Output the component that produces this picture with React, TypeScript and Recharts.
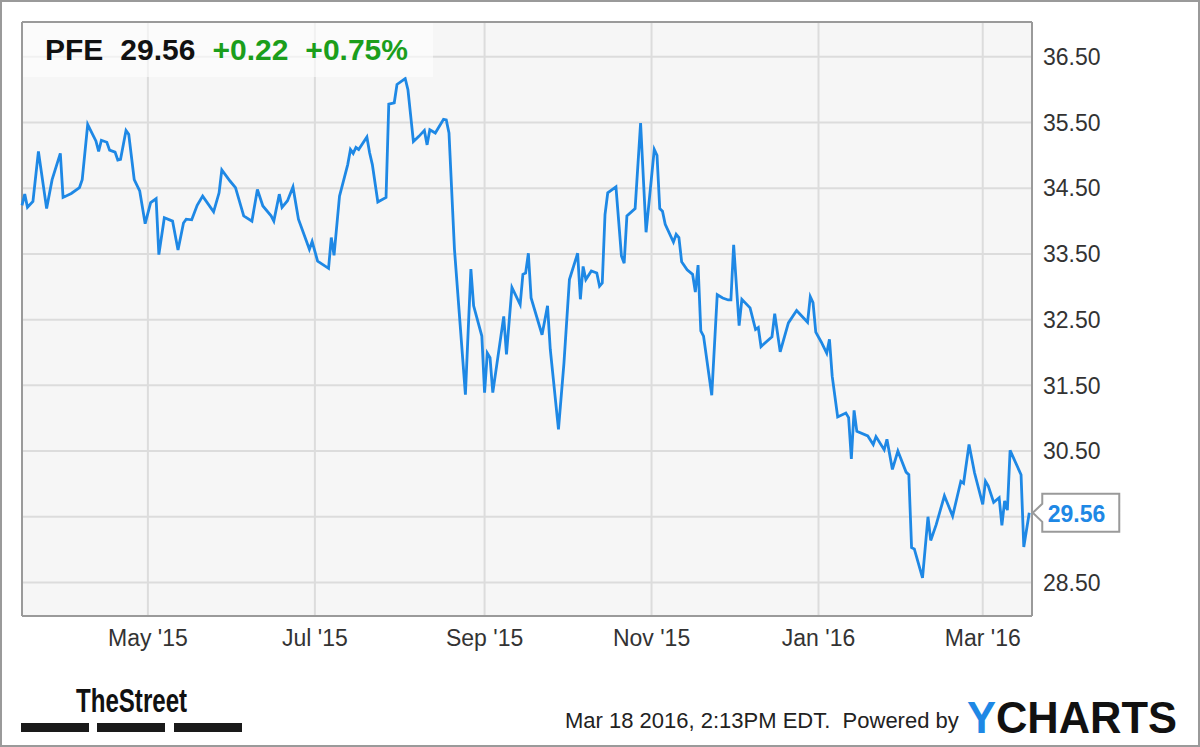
import React from 'react';
import { LineChart, Line, XAxis, YAxis, CartesianGrid, ReferenceLine, LabelList } from 'recharts';

const TICKER = 'PFE';
const CHANGE = 0.22;
const CHANGE_PCT = 0.75;
const STAMP = 'Mar 18 2016, 2:13PM EDT.  Powered by';

// closing prices (PFE, Mar 2015 - Mar 2016)
const DATES = [
  '2015-03-16', '2015-03-17', '2015-03-18', '2015-03-20', '2015-03-22', '2015-03-25', '2015-03-27', '2015-03-30', '2015-03-31',
  '2015-04-03', '2015-04-06', '2015-04-07', '2015-04-09', '2015-04-12', '2015-04-13', '2015-04-14', '2015-04-16', '2015-04-17',
  '2015-04-19', '2015-04-20', '2015-04-21', '2015-04-23', '2015-04-24', '2015-04-26', '2015-04-28', '2015-04-30',
  '2015-05-02', '2015-05-04', '2015-05-05', '2015-05-07', '2015-05-10', '2015-05-12', '2015-05-14', '2015-05-15', '2015-05-17',
  '2015-05-19', '2015-05-21', '2015-05-25', '2015-05-27', '2015-05-28', '2015-05-31',
  '2015-06-02', '2015-06-05', '2015-06-08', '2015-06-10', '2015-06-12', '2015-06-15', '2015-06-16', '2015-06-18', '2015-06-19',
  '2015-06-21', '2015-06-23', '2015-06-25', '2015-06-29', '2015-06-30',
  '2015-07-02', '2015-07-06', '2015-07-07', '2015-07-08', '2015-07-10', '2015-07-13', '2015-07-14', '2015-07-15', '2015-07-16',
  '2015-07-17', '2015-07-20', '2015-07-21', '2015-07-22', '2015-07-24', '2015-07-27', '2015-07-28', '2015-07-30', '2015-07-31',
  '2015-08-03', '2015-08-04', '2015-08-06', '2015-08-08', '2015-08-10', '2015-08-11', '2015-08-12', '2015-08-14', '2015-08-17',
  '2015-08-18', '2015-08-19', '2015-08-21', '2015-08-25', '2015-08-27', '2015-08-28', '2015-08-31',
  '2015-09-01', '2015-09-02', '2015-09-03', '2015-09-04', '2015-09-08', '2015-09-09', '2015-09-11', '2015-09-14', '2015-09-15',
  '2015-09-16', '2015-09-17', '2015-09-18', '2015-09-22', '2015-09-24', '2015-09-25', '2015-09-28', '2015-09-30',
  '2015-10-02', '2015-10-05', '2015-10-06', '2015-10-07', '2015-10-08', '2015-10-10', '2015-10-12', '2015-10-13', '2015-10-14',
  '2015-10-15', '2015-10-16', '2015-10-19', '2015-10-21', '2015-10-22', '2015-10-23', '2015-10-26', '2015-10-28', '2015-10-30',
  '2015-11-02', '2015-11-03', '2015-11-04', '2015-11-05', '2015-11-06', '2015-11-09', '2015-11-10', '2015-11-11', '2015-11-12',
  '2015-11-14', '2015-11-16', '2015-11-17', '2015-11-18', '2015-11-19', '2015-11-20', '2015-11-23', '2015-11-25', '2015-11-27',
  '2015-11-29', '2015-11-30',
  '2015-12-01', '2015-12-03', '2015-12-04', '2015-12-07', '2015-12-09', '2015-12-10', '2015-12-11', '2015-12-15', '2015-12-16',
  '2015-12-18', '2015-12-21', '2015-12-24', '2015-12-28', '2015-12-29', '2015-12-30', '2015-12-31',
  '2016-01-02', '2016-01-04', '2016-01-05', '2016-01-06', '2016-01-08', '2016-01-11', '2016-01-12', '2016-01-13', '2016-01-14',
  '2016-01-15', '2016-01-19', '2016-01-21', '2016-01-22', '2016-01-25', '2016-01-26', '2016-01-28', '2016-01-30',
  '2016-02-02', '2016-02-03', '2016-02-04', '2016-02-05', '2016-02-08', '2016-02-10', '2016-02-11', '2016-02-13', '2016-02-16',
  '2016-02-19', '2016-02-22', '2016-02-23', '2016-02-25', '2016-02-27',
  '2016-03-01', '2016-03-02', '2016-03-03', '2016-03-05', '2016-03-07', '2016-03-08', '2016-03-09', '2016-03-10', '2016-03-11',
  '2016-03-15', '2016-03-16', '2016-03-18',
];

const PRICES = [
  34.24, 34.41, 34.21, 34.30, 35.06, 34.19, 34.63, 35.03, 34.36,
  34.42, 34.51, 34.63, 35.47, 35.22, 35.06, 35.23, 35.20, 35.08,
  35.05, 34.93, 34.94, 35.38, 35.32, 34.63, 34.46, 33.96,
  34.28, 34.34, 33.49, 34.05, 34.00, 33.56, 33.97, 34.03, 34.02,
  34.24, 34.38, 34.14, 34.43, 34.78, 34.61,
  34.51, 34.08, 34.00, 34.48, 34.23, 34.08, 34.00, 34.41, 34.21,
  34.31, 34.52, 34.03, 33.57, 33.69,
  33.39, 33.28, 33.75, 33.48, 34.38, 34.86, 35.09, 35.03, 35.12,
  35.09, 35.28, 35.04, 34.86, 34.29, 34.36, 35.78, 35.80, 36.08,
  36.17, 36.00, 35.21, 35.29, 35.38, 35.16, 35.39, 35.34, 35.55,
  35.54, 35.34, 33.57, 31.36, 33.27, 32.71, 32.25,
  31.39, 31.99, 31.92, 31.39, 32.55, 31.97, 32.99, 32.73, 33.19,
  33.21, 33.51, 32.83, 32.27, 32.71, 32.05, 30.83, 31.84,
  33.11, 33.51, 32.81, 33.31, 33.11, 33.24, 33.21, 33.01, 33.06,
  34.10, 34.43, 34.52, 33.47, 33.36, 34.08, 34.19, 35.49, 33.83,
  35.09, 35.00, 34.19, 34.15, 33.95, 33.68, 33.80, 33.75, 33.38,
  33.26, 33.19, 32.92, 33.33, 32.33, 32.25, 31.35, 32.88, 32.83,
  32.80, 32.80,
  33.64, 32.41, 32.81, 32.68, 32.35, 32.38, 32.09, 32.24, 32.59,
  32.01, 32.45, 32.64, 32.46, 32.85, 32.76, 32.31,
  32.16, 31.99, 32.20, 31.64, 31.02, 31.08, 31.01, 30.38, 31.12,
  30.80, 30.73, 30.60, 30.72, 30.52, 30.68, 30.22, 30.50,
  30.18, 30.14, 29.03, 29.01, 28.57, 29.50, 29.14, 29.38, 29.82,
  29.51, 30.04, 30.01, 30.60, 30.17,
  29.69, 30.04, 29.97, 29.72, 29.79, 29.37, 29.74, 29.60, 30.51,
  30.14, 29.04, 29.56,
];

const X_START = '2015-03-16';
const X_END = '2016-03-19';
const X_TICKS = ['2015-05-01', '2015-07-01', '2015-09-01', '2015-11-01', '2016-01-01', '2016-03-01'];
const X_LABELS = ["May '15", "Jul '15", "Sep '15", "Nov '15", "Jan '16", "Mar '16"];
const Y_TICKS = [28.5, 29.5, 30.5, 31.5, 32.5, 33.5, 34.5, 35.5, 36.5];
const Y_MIN = 27.99;
const Y_MAX = 37.03;

const BLUE = '#1e88e5';
const GREEN = '#1b9e1b';
const FONT = '"Liberation Sans", Arial, Helvetica, sans-serif';

const dayOf = (s: string) => (Date.parse(s) - Date.parse('2015-03-18')) / 86400000;

const data = DATES.map((d, i) => ({ t: dayOf(d), v: PRICES[i] }));
const lastPrice = PRICES[PRICES.length - 1];
const tickDays = X_TICKS.map(dayOf);

// axis labels that sit under the price callout are hidden, like ycharts does
const yLabel = (v: number) => (Math.abs(v - lastPrice) < 0.35 ? '' : v.toFixed(2));

// little callout box with the latest price, pinned to the last point
const PriceTag = (props: any) => {
  const { x, y, index } = props;
  if (index !== data.length - 1) return null;
  const tip = x + 3.5;
  const bx = x + 13;
  const right = x + 90;
  const top = y - 19;
  const bottom = y + 19;
  return (
    <g>
      <path
        d={`M${tip},${y} L${bx},${y - 9} L${bx},${top} L${right},${top} L${right},${bottom} L${bx},${bottom} L${bx},${y + 9} Z`}
        fill="#fff"
        stroke="#9a9a9a"
        strokeWidth={2}
      />
      <text x={x + 18.5} y={y + 9} fill={BLUE} fontSize={23} fontWeight="bold" fontFamily={FONT}>
        {lastPrice.toFixed(2)}
      </text>
    </g>
  );
};

export default function App() {
  return (
    <div style={{ position: 'absolute', left: 0, top: 0, width: 1200, height: 747, background: '#fff', fontFamily: FONT }}>
      <LineChart width={1200} height={747} data={data} margin={{ top: 22, left: 22, right: 68, bottom: 91 }}>
        <CartesianGrid stroke="#dcdcdc" strokeWidth={2} fill="#f6f6f6" />
        <XAxis
          type="number"
          dataKey="t"
          domain={[dayOf(X_START), dayOf(X_END)]}
          ticks={tickDays}
          tickFormatter={(t: number) => X_LABELS[tickDays.indexOf(t)] ?? ''}
          tickLine={false}
          tickMargin={8}
          height={40}
          axisLine={{ stroke: '#9a9a9a', strokeWidth: 2 }}
          tick={{ fill: '#333', fontSize: 23, fontFamily: FONT }}
        />
        <YAxis
          type="number"
          orientation="right"
          domain={[Y_MIN, Y_MAX]}
          ticks={Y_TICKS}
          tickFormatter={yLabel}
          tickLine={false}
          tickMargin={5}
          width={100}
          axisLine={{ stroke: '#9a9a9a', strokeWidth: 2 }}
          tick={{ fill: '#333', fontSize: 23, fontFamily: FONT }}
        />
        <ReferenceLine x={dayOf(X_START)} stroke="#9a9a9a" strokeWidth={2} />
        <ReferenceLine y={Y_MAX} stroke="#9a9a9a" strokeWidth={2} />
        <Line type="linear" dataKey="v" stroke={BLUE} strokeWidth={2.8} dot={false} isAnimationActive={false}>
          <LabelList dataKey="v" content={PriceTag} />
        </Line>
      </LineChart>

      <svg width={1200} height={747} style={{ position: 'absolute', left: 0, top: 0, pointerEvents: 'none' }}>
        <rect x={23} y={23} width={410} height={54} fill="#fff" fillOpacity={0.6} />
        <text x={45} y={60} fontSize={30} fontWeight="bold" fontFamily={FONT} fill="#111">
          <tspan>{TICKER}</tspan>
          <tspan dx={17}>{lastPrice.toFixed(2)}</tspan>
          <tspan dx={17} fill={GREEN}>+{CHANGE.toFixed(2)}</tspan>
          <tspan dx={17} fill={GREEN}>+{CHANGE_PCT.toFixed(2)}%</tspan>
        </text>

        <text transform="translate(76,712) scale(0.73,1)" fontSize={33} fontWeight="bold" fontFamily={FONT} fill="#111">
          TheStreet
        </text>
        <rect x={21} y={723} width={68} height={9} fill="#1a1a1a" />
        <rect x={97} y={723} width={68} height={9} fill="#1a1a1a" />
        <rect x={174} y={723} width={68} height={9} fill="#1a1a1a" />

        <text x={565} y={728} fontSize={22} fontFamily={FONT} fill="#222" style={{ whiteSpace: 'pre' }}>
          {STAMP}
        </text>
        <text x={967} y={733} fontSize={45} fontWeight="bold" fontFamily={FONT} fill="#111" textLength={210} lengthAdjust="spacingAndGlyphs">
          <tspan fill={BLUE}>Y</tspan>
          <tspan>CHARTS</tspan>
        </text>
      </svg>

      <div
        style={{
          position: 'absolute',
          left: 0,
          top: 0,
          width: 1200,
          height: 747,
          boxSizing: 'border-box',
          border: '2px solid #9a9a9a',
          pointerEvents: 'none',
        }}
      />
    </div>
  );
}
